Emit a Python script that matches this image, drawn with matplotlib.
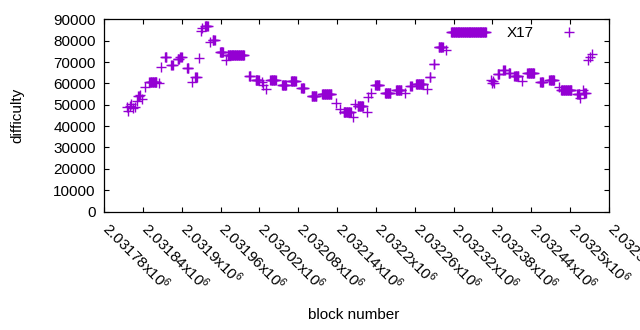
import matplotlib
matplotlib.use("Agg")
import matplotlib.pyplot as plt
from matplotlib.ticker import FixedLocator, FuncFormatter
from matplotlib.transforms import ScaledTranslation

plt.rcParams['font.family'] = ['Liberation Sans', 'DejaVu Sans']
plt.rcParams['mathtext.fontset'] = 'custom'
plt.rcParams['mathtext.rm'] = 'Liberation Sans'
plt.rcParams['mathtext.it'] = 'Liberation Sans:italic'

# runs of consecutive blocks sharing one difficulty value
run_first_block = [
    2031815, 2031817, 2031820, 2031822, 2031825, 2031828, 2031831, 2031833,
    2031836, 2031838, 2031843, 2031850, 2031865, 2031868, 2031874, 2031884,
    2031894, 2031898, 2031908, 2031916, 2031921, 2031927, 2031930, 2031931,
    2031936, 2031944, 2031948, 2031959, 2031968, 2031971, 2032004, 2032014,
    2032024, 2032026, 2032030, 2032037, 2032055, 2032069, 2032085, 2032101,
    2032117, 2032138, 2032145, 2032150, 2032165, 2032168, 2032172, 2032186,
    2032188, 2032193, 2032199, 2032214, 2032231, 2032245, 2032253, 2032262,
    2032279, 2032283, 2032289, 2032297, 2032309, 2032316, 2032377, 2032379,
    2032381, 2032383, 2032388, 2032397, 2032405, 2032414, 2032425, 2032434,
    2032454, 2032468, 2032482, 2032486, 2032511, 2032515, 2032520, 2032522,
    2032527, 2032531, 2032533,
]
run_last_block = [
    2031815, 2031817, 2031820, 2031822, 2031825, 2031828, 2031831, 2031834,
    2031836, 2031838, 2031843, 2031861, 2031865, 2031868, 2031876, 2031886,
    2031896, 2031900, 2031910, 2031916, 2031923, 2031927, 2031930, 2031931,
    2031940, 2031944, 2031951, 2031964, 2031968, 2031996, 2032006, 2032019,
    2032024, 2032026, 2032030, 2032045, 2032061, 2032076, 2032089, 2032108,
    2032131, 2032138, 2032145, 2032161, 2032165, 2032168, 2032180, 2032186,
    2032188, 2032193, 2032205, 2032222, 2032239, 2032245, 2032255, 2032273,
    2032279, 2032284, 2032290, 2032303, 2032309, 2032370, 2032377, 2032379,
    2032381, 2032383, 2032390, 2032399, 2032407, 2032420, 2032425, 2032444,
    2032458, 2032475, 2032482, 2032502, 2032514, 2032515, 2032520, 2032524,
    2032527, 2032531, 2032533,
]
run_difficulty = [
    49050, 46940, 49280, 50220, 48340, 48810, 51620, 53900,
    54430, 52560, 58170, 60750, 60200, 67500, 72200, 68600,
    71200, 72300, 67400, 60650, 63200, 72100, 84300, 85800,
    87050, 79400, 80500, 74550, 70800, 73150, 63300, 61450,
    60650, 59100, 57560, 61780, 59100, 61000, 58030, 54290,
    55040, 50680, 48200, 46470, 44270, 50540, 49430, 46620,
    53640, 55700, 59440, 55700, 56770, 55700, 58970, 59900,
    57560, 63000, 69260, 77030, 75490, 84050, 61600, 60300,
    61100, 60000, 64580, 66270, 64720, 63320, 61120, 64720,
    60840, 61780, 58310, 56770, 54900, 53160, 56800, 55360,
    70800, 72350, 73900,
]

x_ticks = [2031780 + 60 * i for i in range(14)]
y_ticks = list(range(0, 90001, 10000))

blocks = []
difficulty = []
for first, last, d in zip(run_first_block, run_last_block, run_difficulty):
    for b in range(first, last + 1):
        blocks.append(b)
        difficulty.append(d)

color = '#9400d3'

fig = plt.figure(figsize=(6.4, 3.3), dpi=100)
ax = fig.add_axes([104 / 640, 1 - 211.5 / 330, 505 / 640, 192.2 / 330])

ax.plot(blocks, difficulty, linestyle='none', marker='+', markersize=6.5,
        markeredgewidth=1.0, color=color, label='X17')

ax.set_xlim(2031780, 2032560)
ax.set_ylim(0, 90000)
ax.xaxis.set_major_locator(FixedLocator(x_ticks))
ax.yaxis.set_major_locator(FixedLocator(y_ticks))
ax.xaxis.set_major_formatter(FuncFormatter(lambda v, p: f"{v / 1e6:g}x$10^{{6}}$"))
ax.yaxis.set_major_formatter(FuncFormatter(lambda v, p: f"{int(v)}"))

ax.tick_params(direction='in', length=3.3, width=0.8, top=True, right=True,
               labelsize=11, color='black')
ax.tick_params(axis='y', pad=6)
ax.tick_params(axis='x', pad=5)
shift = ScaledTranslation(8 / 100, 0, fig.dpi_scale_trans)
for lab in ax.get_xticklabels():
    lab.set_rotation(-45)
    lab.set_ha('left')
    lab.set_va('top')
    lab.set_rotation_mode('anchor')
    lab.set_transform(lab.get_transform() + shift)
for s in ax.spines.values():
    s.set_linewidth(0.9)

fig.text(17 / 640, 1 - 115 / 330, 'difficulty', rotation=90,
         ha='center', va='center', fontsize=11)
fig.text(354 / 640, 1 - 315 / 330, 'block number',
         ha='center', va='center', fontsize=11)

ax.legend(loc='center right', bbox_to_anchor=(584 / 640, 1 - 33 / 330),
          bbox_transform=fig.transFigure, frameon=False, markerfirst=False,
          fontsize=11, handlelength=2, handletextpad=1.3, borderpad=0,
          borderaxespad=0)

fig.savefig('out.png', dpi=100)
